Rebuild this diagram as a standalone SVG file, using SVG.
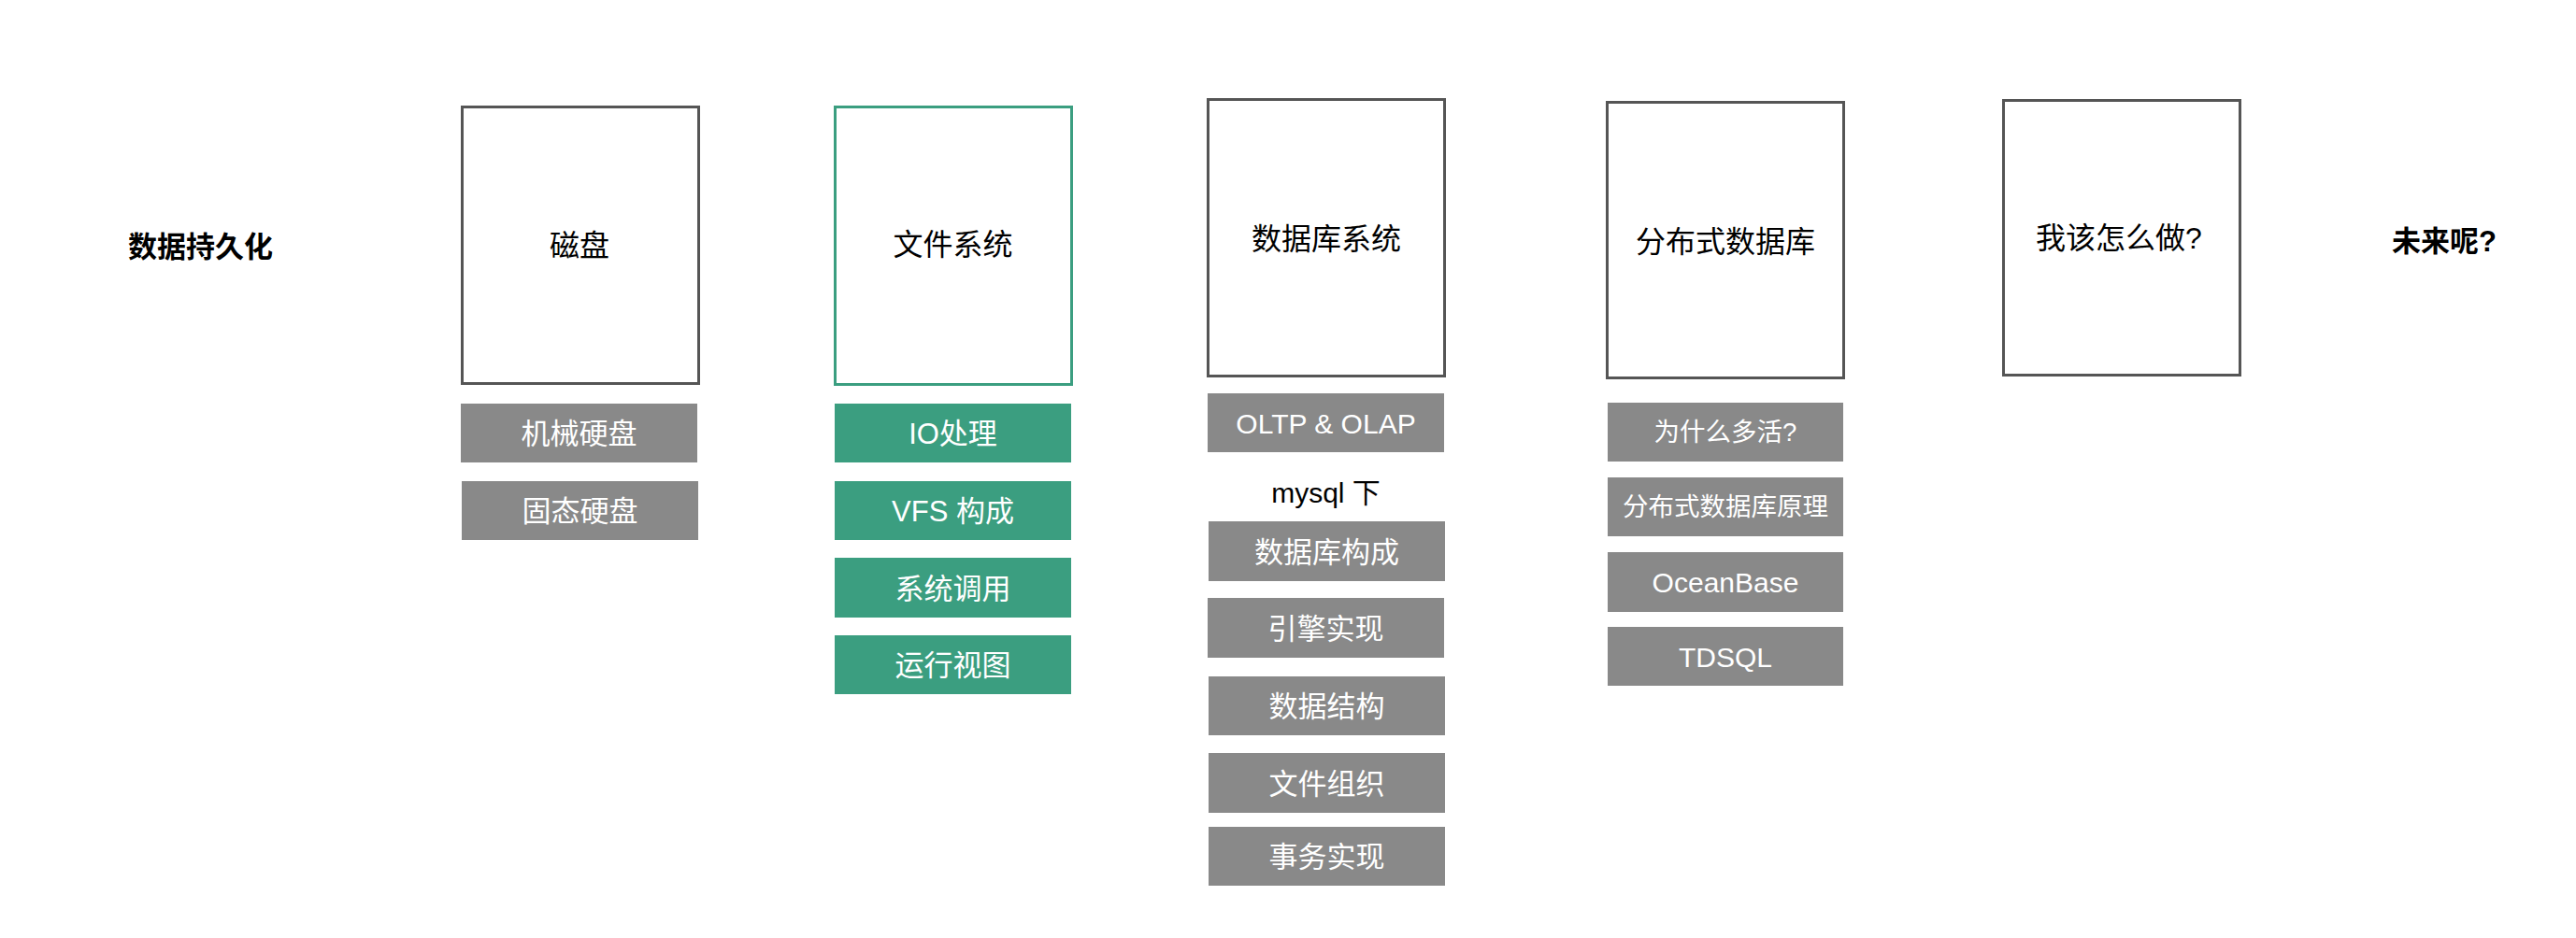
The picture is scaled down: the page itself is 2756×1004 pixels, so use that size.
<svg xmlns="http://www.w3.org/2000/svg" width="2756" height="1004" viewBox="0 0 2756 1004">
<style>
text{font-family:"Liberation Sans","Noto Sans CJK SC",sans-serif;text-anchor:middle;}
.title{font-size:31px;font-weight:bold;fill:#000;}
.main{fill:#fff;stroke:#555;stroke-width:3;}
.mainG{fill:#fff;stroke:#3b9e80;stroke-width:3;}
.mt{font-size:32px;fill:#000;}
.sub{fill:#898989;}
.subG{fill:#3b9e80;}
.st{font-size:31px;fill:#fff;}
.stl{font-size:30px;fill:#fff;}
.sts{font-size:27.5px;fill:#fff;}
.lbl{font-size:30px;fill:#000;}
</style>
<rect width="2756" height="1004" fill="#fff"/>
<g id="title-persist"><text class="title" x="214.5" y="275">数据持久化</text></g>
<g id="node-disk">
<rect class="main" x="494.5" y="114.5" width="253" height="296"/>
<text class="mt" x="620" y="274">磁盘</text>
</g>
<g id="node-hdd"><rect class="sub" x="493" y="432" width="253" height="63"/><text class="st" x="619.5" y="475">机械硬盘</text></g>
<g id="node-ssd"><rect class="sub" x="494" y="515" width="253" height="63"/><text class="st" x="620.5" y="558">固态硬盘</text></g>

<g id="node-fs">
<rect class="mainG" x="893.5" y="114.5" width="253" height="297"/>
<text class="mt" x="1019.5" y="273">文件系统</text>
</g>
<g id="node-io"><rect class="subG" x="893" y="432" width="253" height="63"/><text class="st" x="1019.5" y="475">IO处理</text></g>
<g id="node-vfs"><rect class="subG" x="893" y="515" width="253" height="63"/><text class="st" x="1019.5" y="558">VFS 构成</text></g>
<g id="node-syscall"><rect class="subG" x="893" y="597" width="253" height="64"/><text class="st" x="1019.5" y="640.5">系统调用</text></g>
<g id="node-runview"><rect class="subG" x="893" y="680" width="253" height="63"/><text class="st" x="1019.5" y="723">运行视图</text></g>

<g id="node-dbs">
<rect class="main" x="1292.5" y="106.5" width="253" height="296"/>
<text class="mt" x="1419" y="267">数据库系统</text>
</g>
<g id="node-oltp"><rect class="sub" x="1292" y="421" width="253" height="63"/><text class="stl" x="1418.5" y="463.5">OLTP &amp; OLAP</text></g>
<g id="label-mysql"><text class="lbl" x="1418.5" y="538">mysql 下</text></g>
<g id="node-dbcomp"><rect class="sub" x="1293" y="558" width="253" height="64"/><text class="st" x="1419.5" y="601.5">数据库构成</text></g>
<g id="node-engine"><rect class="sub" x="1292" y="640" width="253" height="64"/><text class="st" x="1418.5" y="683.5">引擎实现</text></g>
<g id="node-ds"><rect class="sub" x="1293" y="724" width="253" height="63"/><text class="st" x="1419.5" y="767">数据结构</text></g>
<g id="node-fileorg"><rect class="sub" x="1293" y="806" width="253" height="64"/><text class="st" x="1419.5" y="849.5">文件组织</text></g>
<g id="node-tx"><rect class="sub" x="1293" y="885" width="253" height="63"/><text class="st" x="1419.5" y="928">事务实现</text></g>

<g id="node-ddb">
<rect class="main" x="1719.5" y="109.5" width="253" height="295"/>
<text class="mt" x="1846" y="270">分布式数据库</text>
</g>
<g id="node-multi"><rect class="sub" x="1720" y="431" width="252" height="63"/><text class="sts" x="1846" y="472">为什么多活?</text></g>
<g id="node-ddbprin"><rect class="sub" x="1720" y="511" width="252" height="63"/><text class="sts" x="1846" y="552">分布式数据库原理</text></g>
<g id="node-ob"><rect class="sub" x="1720" y="591" width="252" height="64"/><text class="stl" x="1846" y="634">OceanBase</text></g>
<g id="node-tdsql"><rect class="sub" x="1720" y="671" width="252" height="63"/><text class="stl" x="1846" y="713.5">TDSQL</text></g>

<g id="node-what">
<rect class="main" x="2143.5" y="107.5" width="253" height="294"/>
<text class="mt" x="2267" y="266">我该怎么做?</text>
</g>
<g id="title-future"><text class="title" x="2615" y="269">未来呢?</text></g>
</svg>
